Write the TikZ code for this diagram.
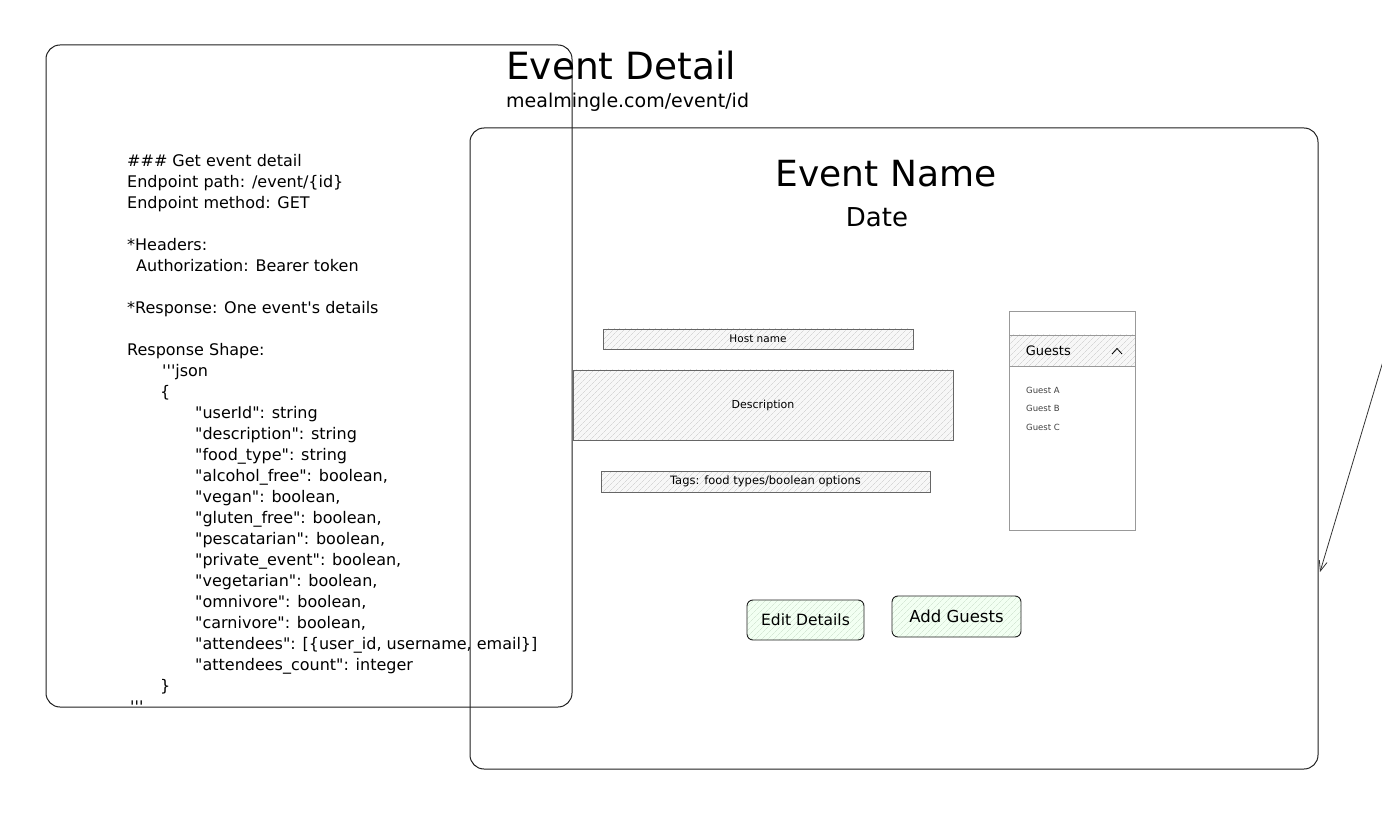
\documentclass[tikz,border=0pt]{standalone}
\usepackage{fontspec}
\setmainfont{DejaVu Sans}
\usetikzlibrary{arrows.meta,patterns.meta,positioning}

\newcommand{\qt}[1]{\textquotedbl#1\textquotedbl}
\newcommand{\tq}{\textquotesingle\textquotesingle\textquotesingle}

\tikzset{
	rahmen/.style={draw=black!88, line width=1pt, rounded corners=14pt},
	feld/.style={draw=black!60, line width=0.7pt, inner sep=0pt,
		preaction={fill=black!3},
		pattern={Lines[angle=45,distance=4pt,line width=0.3pt]}, pattern color=black!22,
		font=\fontsize{11}{13}\selectfont},
	knopf/.style={draw=black!88, line width=0.9pt, rounded corners=6pt, inner sep=0pt,
		preaction={fill=green!5},
		pattern={Lines[angle=45,distance=4pt,line width=0.3pt]}, pattern color=green!40!black!22},
	liste/.style={draw=black!40, line width=0.7pt, inner sep=0pt}
}

\begin{document}
\begin{tikzpicture}[x=1pt,y=-1pt]
	\useasboundingbox (0,0) rectangle (1382,818);

	% zeichne Rahmen
	\draw[rahmen] (46,45) rectangle (572,707);

	% zeichne API-Beschreibung
	\node[anchor=north west, inner sep=0pt, align=left, font=\fontsize{16}{21}\selectfont] (code) at (127,154) {%
		\#\#\# Get event detail\\
		Endpoint path: /event/\{id\}\\
		Endpoint method: GET\\[21pt]
		*Headers:\\
		\hspace*{9pt}Authorization: Bearer token\\[21pt]
		*Response: One event\textquotesingle s details\\[21pt]
		Response Shape:\\
		\hspace*{35pt}\tq json\\
		\hspace*{33pt}\{\\
		\hspace*{68pt}\qt{userId}: string\\
		\hspace*{68pt}\qt{description}: string\\
		\hspace*{68pt}\qt{food\_type}: string\\
		\hspace*{68pt}\qt{alcohol\_free}: boolean,\\
		\hspace*{68pt}\qt{vegan}: boolean,\\
		\hspace*{68pt}\qt{gluten\_free}: boolean,\\
		\hspace*{68pt}\qt{pescatarian}: boolean,\\
		\hspace*{68pt}\qt{private\_event}: boolean,\\
		\hspace*{68pt}\qt{vegetarian}: boolean,\\
		\hspace*{68pt}\qt{omnivore}: boolean,\\
		\hspace*{68pt}\qt{carnivore}: boolean,\\
		\hspace*{68pt}\qt{attendees}: [\{user\_id, username, email\}]\\
		\hspace*{68pt}\qt{attendees\_count}: integer\\
		\hspace*{33pt}\}\\
		\hspace*{3pt}\tq};

	% zeichne Titel
	\node[anchor=base west, inner sep=0pt, font=\fontsize{37.5}{40}\selectfont] (titel) at (506,80) {Event Detail};
	\node[anchor=base west, inner sep=0pt, font=\fontsize{19}{23}\selectfont] (url) at (506,108) {mealmingle.com/event/id};

	% zeichne Seite
	\draw[rahmen] (470,128) rectangle (1318,769);
	\node[anchor=base, inner sep=0pt, font=\fontsize{36}{40}\selectfont] (name) at (886,187) {Event Name};
	\node[anchor=base, inner sep=0pt, font=\fontsize{26}{30}\selectfont] (datum) at (877,227) {Date};

	% zeichne Felder
	\node[feld, font=\fontsize{10.5}{13}\selectfont, minimum width=310pt, minimum height=20pt] (host) at (758,339) {Host name};
	\node[feld, minimum width=380pt, minimum height=70pt] (desc) at (763,405) {Description};
	\node[feld, font=\fontsize{11.5}{13}\selectfont, minimum width=329pt, minimum height=21pt] (tags) at (765.5,481.5) {Tags: food types/boolean options};

	% zeichne Gaesteliste
	\node[liste, minimum width=126pt, minimum height=219pt] (gaeste) at (1072,420.5) {};
	\node[feld, draw=black!40, minimum width=126pt, minimum height=31pt, anchor=north] (kopf) at ([yshift=-24pt]gaeste.north) {};
	\node[anchor=west, inner sep=0pt, font=\fontsize{13}{16}\selectfont] (gtitel) at ([xshift=17pt]kopf.west) {Guests};
	\draw[line width=0.8pt] (1112,354) -- (1117,348.5) -- (1122,354);
	\foreach \g/\y in {A/393, B/411, C/430}
		\node[anchor=base west, inner sep=0pt, font=\fontsize{8.5}{10}\selectfont, text=black!75] (gast\g) at (1026,\y) {Guest \g};

	% zeichne Knoepfe
	\node[knopf, minimum width=117pt, minimum height=40pt, font=\fontsize{15.5}{18}\selectfont] (edit) at (805.5,620) {Edit Details};
	\node[knopf, minimum width=129pt, minimum height=41pt, font=\fontsize{16.5}{20}\selectfont] (add) at (956.5,616.5) {Add Guests};

	% zeichne Pfeil
	\coordinate (pfeilA) at (1384,358);
	\coordinate (pfeilB) at (1320,572);
	\draw[-{Straight Barb[length=10pt,width=8pt]}, line width=0.8pt, black!80] (pfeilA) -- (pfeilB);
\end{tikzpicture}
\end{document}
